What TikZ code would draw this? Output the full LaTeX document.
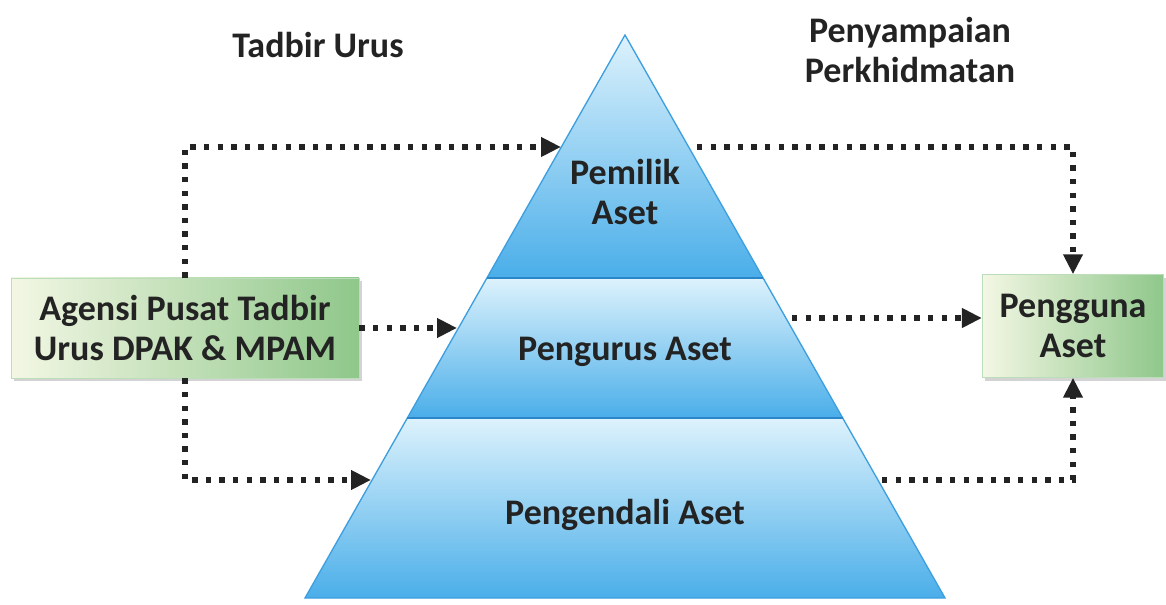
\documentclass[tikz,border=0pt]{standalone}
\usepackage{fontspec}
\setmainfont{Carlito}
\usetikzlibrary{arrows.meta,shadows}
\definecolor{biruMuda}{HTML}{DDF2FC}
\definecolor{biruTua}{HTML}{4AAEE9}
\definecolor{garisBiru}{HTML}{3D9FDF}
\definecolor{garisSekat}{HTML}{2A86C8}
\definecolor{hijauMuda}{HTML}{F3F7E4}
\definecolor{hijauTua}{HTML}{8FC78A}
\definecolor{teksGelap}{HTML}{232323}
\tikzset{
  teks/.style={text=teksGelap, font=\bfseries\fontsize{27}{30}\selectfont, align=center},
  kotak/.style={teks, draw=hijauTua!60!white, line width=0.6pt,
    left color=hijauMuda, right color=hijauTua,
    drop shadow={shadow xshift=2pt, shadow yshift=-2.5pt, opacity=0.35}},
  lapis/.style={top color=biruMuda, middle color=biruTua!75!biruMuda, bottom color=biruTua},
  titik/.style={draw=teksGelap, line width=4pt, dash pattern=on 4pt off 6.2pt,
    -{Triangle[length=15pt,width=14pt]}}
}
\begin{document}
\begin{tikzpicture}[x=0.75pt,y=-0.75pt]
        \useasboundingbox (0,0) rectangle (1166,605);

        %%%%%%%%%% Piramid %%%%%%%%%%
        \shade[lapis] (625,35) -- (763.1,278) -- (486.9,278) -- cycle;
        \shade[lapis] (486.9,278) -- (763.1,278) -- (842.7,418) -- (407.3,418) -- cycle;
        \shade[lapis] (407.3,418) -- (842.7,418) -- (945,598) -- (305,598) -- cycle;
        \draw[garisBiru, line width=1pt] (625,35) -- (945,598) -- (305,598) -- cycle;
        \draw[garisSekat, line width=1.3pt] (486.9,278) -- (763.1,278);
        \draw[garisSekat, line width=1.3pt] (407.3,418) -- (842.7,418);

        \coordinate (kiriAtas) at (561,147);
        \coordinate (kiriTengah) at (457,328);
        \coordinate (kiriBawah) at (371,480);
        \coordinate (kananAtas) at (697,147);
        \coordinate (kananTengah) at (792,318);
        \coordinate (kananBawah) at (882,480);

        %%%%%%%%%% Nod %%%%%%%%%%
        \node[teks] (pemilik) at (625,192) {Pemilik\\Aset};
        \node[teks] (pengurus) at (625,352) {Pengurus Aset};
        \node[teks] (pengendali) at (625,515) {Pengendali Aset};
        \node[teks] (tadbir) at (318,45) {Tadbir Urus};
        \node[teks] (penyampaian) at (910,50) {Penyampaian\\Perkhidmatan};
        \node[kotak, minimum width=261pt, minimum height=75pt] (agensi) at (185,328)
            {Agensi Pusat Tadbir\\Urus DPAK \& MPAM};
        \node[kotak, minimum width=136pt, minimum height=77pt] (pengguna) at (1073,326)
            {Pengguna\\Aset};

        %%%%%%%%% Anak panah %%%%%%%%%
        \draw[titik] (agensi.north) |- (kiriAtas);
        \draw[titik] (agensi.east) -- (kiriTengah);
        \draw[titik] (agensi.south) |- (kiriBawah);
        \draw[titik] (kananAtas) -| (pengguna.north);
        \draw[titik] (kananTengah) -- (kananTengah -| pengguna.west);
        \draw[titik] (kananBawah) -| (pengguna.south);
    \end{tikzpicture}
\end{document}
